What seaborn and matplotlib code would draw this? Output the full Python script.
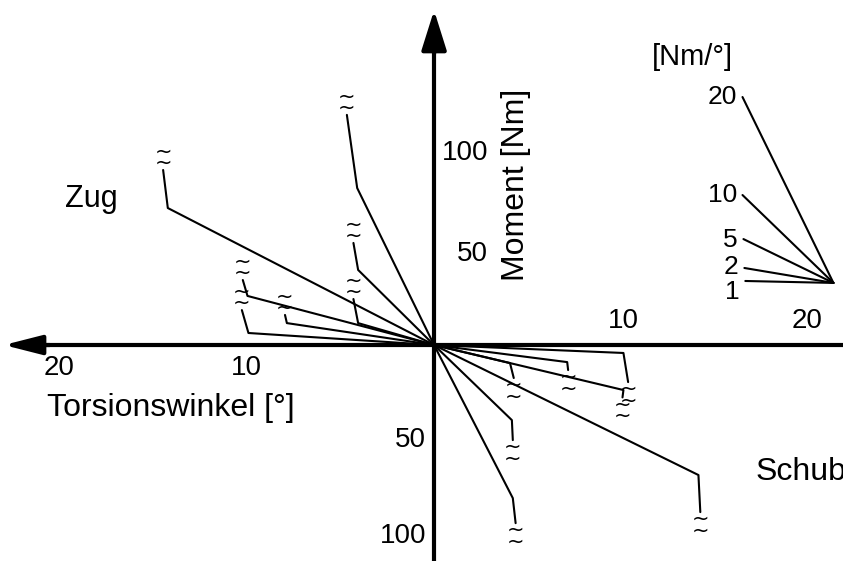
import matplotlib
matplotlib.use("Agg")
import matplotlib.pyplot as plt
import seaborn as sns
import pandas as pd

# Zug (tension): torsion angle [deg] and moment [Nm] at the knee and at the break
zug_knee_x = [14.2, 4.1, 4.05, 4.05, 9.95, 7.85, 9.9]
zug_knee_y = [70.6, 80.9, 38.7, 11.3, 25.3, 11.3, 6.2]
zug_end_x = [14.45, 4.65, 4.3, 4.3, 10.2, 7.95, 10.25]
zug_end_y = [90.2, 118.6, 52.6, 23.7, 33.5, 15.5, 18.0]

# Schub (shear)
schub_knee_x = [10.1, 7.1, 4.05, 10.1, 14.1, 4.15, 4.2]
schub_knee_y = [4.1, 8.8, 9.3, 23.2, 67.0, 38.7, 78.9]
schub_end_x = [10.35, 7.15, 4.25, 10.05, 14.2, 4.2, 4.35]
schub_end_y = [19.1, 12.9, 17.0, 27.0, 86.1, 49.0, 91.8]

# stiffness fan [Nm/deg]
fan_labels = ['20', '10', '5', '2', '1']
fan_anchor = (21.3, 32.0)
fan_end_x = [16.45, 16.45, 16.5, 16.55, 16.6]
fan_end_y = [127.8, 77.3, 54.6, 39.7, 33.0]

x_ticks = [-20, -15, -10, -5, 5, 10, 15, 20]
y_ticks = [-100, -50, 50, 100]

XLIM = (-23.15, 21.81)
YLIM = (-111.3, 177.8)


def build_frame():
    rows = []
    for i in range(len(zug_knee_x)):
        pts = [(0, 0), (-zug_knee_x[i], zug_knee_y[i]), (-zug_end_x[i], zug_end_y[i])]
        for k, (x, y) in enumerate(pts):
            rows.append({'x': x, 'y': y, 'line': f'z{i}', 'k': k})
    for i in range(len(schub_knee_x)):
        pts = [(0, 0), (schub_knee_x[i], -schub_knee_y[i]), (schub_end_x[i], -schub_end_y[i])]
        for k, (x, y) in enumerate(pts):
            rows.append({'x': x, 'y': y, 'line': f's{i}', 'k': k})
    for i in range(len(fan_labels)):
        for k, (x, y) in enumerate([fan_anchor, (fan_end_x[i], fan_end_y[i])]):
            rows.append({'x': x, 'y': y, 'line': f'f{i}', 'k': k})
    return pd.DataFrame(rows)


def main():
    sns.set_style("white")
    plt.rcParams['font.family'] = ['Liberation Sans', 'DejaVu Sans']
    plt.rcParams.update({'text.color': 'black', 'axes.edgecolor': 'black',
                         'xtick.color': 'black', 'ytick.color': 'black'})

    fig = plt.figure(figsize=(8.43, 5.61), dpi=100)
    ax = fig.add_axes([0, 0, 1, 1])

    df = build_frame()
    sns.lineplot(data=df, x='x', y='y', units='line', estimator=None,
                 sort=False, color='black', lw=1.5, ax=ax)
    ax.set(xlabel='', ylabel='')

    # break marks
    brk = dict(fontsize=15, ha='center', family='DejaVu Sans', linespacing=0.45)
    for x, y in zip(zug_end_x, zug_end_y):
        ax.text(-x, y - 1.5, '~\n~', va='bottom', **brk)
    for x, y in zip(schub_end_x, schub_end_y):
        ax.text(x, -y + 1.5, '~\n~', va='top', **brk)

    ax.set_xlim(*XLIM)
    ax.set_ylim(*YLIM)

    # axes through the origin
    for s in ['top', 'right']:
        ax.spines[s].set_visible(False)
    ax.spines['left'].set_position(('data', 0))
    ax.spines['bottom'].set_position(('data', 0))
    ax.spines['left'].set_linewidth(3)
    ax.spines['bottom'].set_linewidth(3)
    ax.spines['left'].set_bounds(YLIM[0], 155)
    ax.spines['bottom'].set_bounds(-21.0, XLIM[1])
    ax.set_xticks(x_ticks)
    ax.set_yticks(y_ticks)
    ax.tick_params(direction='inout', length=11, width=1.5, color='black',
                   labelbottom=False, labelleft=False)
    ax.grid(False)

    ax.annotate('', xy=(0, 172.5), xytext=(0, 150),
                arrowprops=dict(arrowstyle='-|>,head_length=1.75,head_width=0.55',
                                mutation_scale=14, color='black', lw=3,
                                shrinkA=0, shrinkB=0))
    ax.annotate('', xy=(-22.95, 0), xytext=(-20.5, 0),
                arrowprops=dict(arrowstyle='-|>,head_length=1.65,head_width=0.42',
                                mutation_scale=14, color='black', lw=3,
                                shrinkA=0, shrinkB=0))

    # tick labels
    tk = dict(fontsize=20, color='black')
    ax.text(-20, -11.9, '20', ha='center', va='center', **tk)
    ax.text(-10, -11.9, '10', ha='center', va='center', **tk)
    ax.text(10.1, 12.4, '10', ha='center', va='center', **tk)
    ax.text(19.9, 12.4, '20', ha='center', va='center', **tk)
    ax.text(2.88, 99.0, '100', ha='right', va='center', **tk)
    ax.text(2.88, 46.9, '50', ha='right', va='center', **tk)
    ax.text(-0.43, -49.0, '50', ha='right', va='center', **tk)
    ax.text(-0.43, -98.5, '100', ha='right', va='center', **tk)

    # axis titles and regions
    ax.text(-20.64, -36.6, 'Torsionswinkel [°]', fontsize=23, ha='left', va='baseline')
    ax.text(4.37, 82.5, 'Moment [Nm]', fontsize=23, rotation=90, ha='center', va='center')
    ax.text(-19.68, 71.1, 'Zug', fontsize=22, ha='left', va='baseline')
    ax.text(17.12, -69.6, 'Schub', fontsize=23, ha='left', va='baseline')
    ax.text(13.76, 148.5, '[Nm/°]', fontsize=21, ha='center', va='center')

    offsets = [0, 0, -0.5, 0.5, -5.5]
    for lab, x, y, dy in zip(fan_labels, fan_end_x, fan_end_y, offsets):
        ax.text(x - 0.3, y + dy, lab, fontsize=19, ha='right', va='center')

    plt.savefig('out.png', dpi=100)


if __name__ == '__main__':
    main()
